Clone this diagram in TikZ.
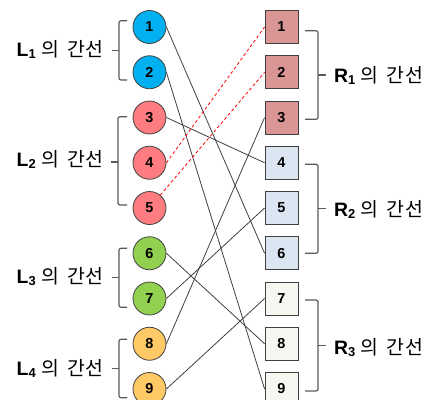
\documentclass[tikz,border=0pt]{standalone}
\usepackage{fontspec}
\setmainfont{Liberation Sans}
\newfontfamily\kr{Noto Sans CJK KR}
\definecolor{cblue}{HTML}{00B0F0}
\definecolor{cred}{HTML}{FF7C80}
\definecolor{cgreen}{HTML}{92D050}
\definecolor{corange}{HTML}{FFC966}
\definecolor{srose}{HTML}{D99694}
\definecolor{sblue}{HTML}{DCE6F2}
\definecolor{swhite}{HTML}{F7F7F2}
\definecolor{edge}{HTML}{404040}
\definecolor{linecol}{HTML}{404040}
\definecolor{bracecol}{HTML}{595959}
\newcommand{\grplabel}[2]{\textbf{#1}\raisebox{-2.2bp}{\fontsize{13}{13}\selectfont\textbf{#2}} {\kr 의}\hspace{8bp}{\kr 간\hspace{0.5bp}선}}
\begin{document}
\begin{tikzpicture}[x=1bp,y=-1bp,
  circ/.style={circle, draw=edge, line width=0.8bp, minimum size=33bp, inner sep=0pt, font=\fontsize{14.5}{14.5}\selectfont\bfseries},
  sq/.style={rectangle, draw=edge, line width=0.8bp, minimum size=33bp, inner sep=0pt, font=\fontsize{14.5}{14.5}\selectfont\bfseries},
  bracepath/.style={draw=bracecol, line width=1.2bp, rounded corners=2bp},
  link/.style={draw=linecol, line width=0.8bp},
  dlink/.style={draw=red, dashed, dash pattern=on 3bp off 2.5bp, line width=0.8bp},
  lab/.style={inner sep=0pt, font=\fontsize{19.5}{20}\selectfont}]
\useasboundingbox (0,0) rectangle (432,400);
% left circles
\node[circ, fill=cblue] (c1) at (149.5,27) {1};
\node[circ, fill=cblue] (c2) at (149.5,72.25) {2};
\node[circ, fill=cred] (c3) at (149.5,117.5) {3};
\node[circ, fill=cred] (c4) at (149.5,162.75) {4};
\node[circ, fill=cred] (c5) at (149.5,208) {5};
\node[circ, fill=cgreen] (c6) at (149.5,253.25) {6};
\node[circ, fill=cgreen] (c7) at (149.5,298.5) {7};
\node[circ, fill=corange] (c8) at (149.5,343.75) {8};
\node[circ, fill=corange] (c9) at (149.5,389) {9};
% right squares
\node[sq, fill=srose] (s1) at (281.5,27) {1};
\node[sq, fill=srose] (s2) at (281.5,72.25) {2};
\node[sq, fill=srose] (s3) at (281.5,117.5) {3};
\node[sq, fill=sblue] (s4) at (281.5,162.75) {4};
\node[sq, fill=sblue] (s5) at (281.5,208) {5};
\node[sq, fill=sblue] (s6) at (281.5,253.25) {6};
\node[sq, fill=swhite] (s7) at (281.5,298.5) {7};
\node[sq, fill=swhite] (s8) at (281.5,343.75) {8};
\node[sq, fill=swhite] (s9) at (281.5,389) {9};
% connections
\draw[link] (c1.east) -- (s6.west);
\draw[link] (c2.east) -- (s9.west);
\draw[link] (c3.east) -- (s4.west);
\draw[link] (c6.east) -- (s8.west);
\draw[link] (c7.east) -- (s5.west);
\draw[link] (c8.east) -- (s3.west);
\draw[link] (c9.east) -- (s7.west);
\draw[dlink] (c4.east) -- (s1.west);
\draw[dlink] (c5.50) -- (s2.west);
% left braces
\draw[bracepath] (127,20.7) -- (119,20.7) -- (119,80) -- (127,80);
\draw[bracepath] (119,50.5) -- (112,50.5);
\draw[bracepath] (127,116.7) -- (118,116.7) -- (118,205) -- (127,205);
\draw[bracepath] (118,162) -- (111,162);
\draw[bracepath] (127,248.3) -- (119,248.3) -- (119,307.3) -- (127,307.3);
\draw[bracepath] (119,277.5) -- (112,277.5);
\draw[bracepath] (127,339.3) -- (119,339.3) -- (119,397.7) -- (127,397.7);
\draw[bracepath] (119,368.5) -- (112,368.5);
% right braces
\draw[bracepath] (305,30.7) -- (318,30.7) -- (318,119.3) -- (305,119.3);
\draw[bracepath] (318,75) -- (326,75);
\draw[bracepath] (305,164.3) -- (318,164.3) -- (318,253.3) -- (305,253.3);
\draw[bracepath] (318,208.8) -- (326,208.8);
\draw[bracepath] (305,300) -- (318,300) -- (318,391) -- (305,391);
\draw[bracepath] (318,345.5) -- (326,345.5);
% labels
\node[lab, anchor=base west] (l1) at (16.5,56) {\grplabel{L}{1}};
\node[lab, anchor=base west] (l2) at (16.5,166) {\grplabel{L}{2}};
\node[lab, anchor=base west] (l3) at (16.5,283) {\grplabel{L}{3}};
\node[lab, anchor=base west] (l4) at (16.5,375) {\grplabel{L}{4}};
\node[lab, anchor=base west] (r1) at (334,82.5) {\grplabel{R}{1}};
\node[lab, anchor=base west] (r2) at (334,216.5) {\grplabel{R}{2}};
\node[lab, anchor=base west] (r3) at (334,354) {\grplabel{R}{3}};
\end{tikzpicture}
\end{document}
